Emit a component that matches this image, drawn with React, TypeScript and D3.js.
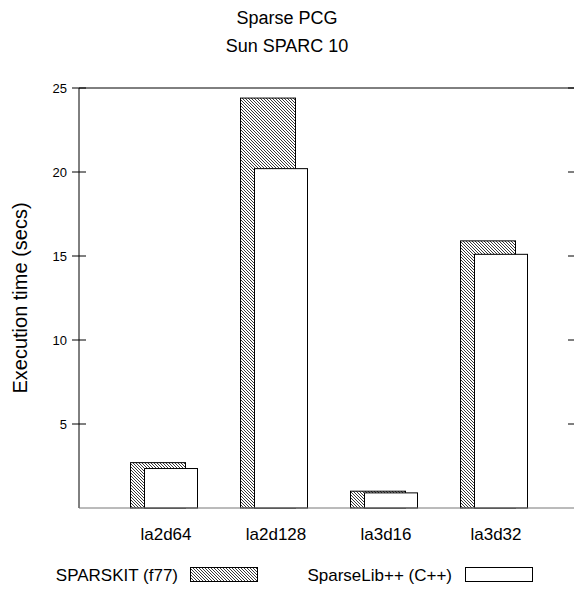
import React, { useEffect, useRef } from "react";
import * as d3 from "d3";

const categories = ["la2d64", "la2d128", "la3d16", "la3d32"];
const sparskit = [2.7, 24.4, 1.0, 15.9];
const sparselib = [2.35, 20.2, 0.9, 15.1];
const yTicks = [5, 10, 15, 20, 25];
const titleLines = ["Sparse PCG", "Sun SPARC 10"];

const W = 574;
const H = 606;

const App = () => {
  const ref = useRef<SVGSVGElement>(null);

  useEffect(() => {
    const svg = d3.select(ref.current);
    svg.selectAll("*").remove();
    const font = "Liberation Sans, Arial, sans-serif";

    const left = 79, right = 575, top = 88, bottom = 508;

    const x = d3.scaleBand().domain(categories).range([111, 551]);
    const y = d3.scaleLinear().domain([0, 25]).range([bottom, top]);

    // hatch pattern
    const defs = svg.append("defs");
    const pat = defs
      .append("pattern")
      .attr("id", "hatch")
      .attr("patternUnits", "userSpaceOnUse")
      .attr("width", 3)
      .attr("height", 3);
    pat.append("rect").attr("width", 3).attr("height", 3).attr("fill", "#fff");
    pat
      .append("path")
      .attr("d", "M-1,-1 L4,4 M-1,2 L1,4 M2,-1 L4,1")
      .attr("stroke", "#222")
      .attr("stroke-width", 0.9);

    // title
    svg
      .append("g")
      .selectAll("text")
      .data(titleLines)
      .join("text")
      .attr("x", 287)
      .attr("y", (d, i) => 24 + i * 28)
      .attr("text-anchor", "middle")
      .attr("font-family", font)
      .attr("font-size", 18)
      .text(d => d);

    // frame lines
    svg.append("line").attr("x1", left).attr("x2", right).attr("y1", top).attr("y2", top).attr("stroke", "#000");
    svg.append("line").attr("x1", left).attr("x2", left).attr("y1", top).attr("y2", bottom).attr("stroke", "#000");

    // y ticks, left and right
    const yg = svg.append("g");
    yTicks.forEach(t => {
      yg.append("line")
        .attr("x1", left - 7).attr("x2", left + 7)
        .attr("y1", y(t)).attr("y2", y(t))
        .attr("stroke", "#000");
      yg.append("line")
        .attr("x1", right - 7).attr("x2", right + 7)
        .attr("y1", y(t)).attr("y2", y(t))
        .attr("stroke", "#000");
      yg.append("text")
        .attr("x", left - 12)
        .attr("y", y(t))
        .attr("dy", "0.35em")
        .attr("text-anchor", "end")
        .attr("font-family", font)
        .attr("font-size", 13)
        .text(t);
    });

    svg
      .append("text")
      .attr("transform", `translate(27,${(top + bottom) / 2}) rotate(-90)`)
      .attr("text-anchor", "middle")
      .attr("font-family", font)
      .attr("font-size", 20)
      .text("Execution time (secs)");

    // bars
    const bars = svg.append("g");
    categories.forEach((c, i) => {
      const cx = x(c)! + x.bandwidth() / 2;
      bars.append("rect")
        .attr("x", cx - 35.5)
        .attr("y", y(sparskit[i]))
        .attr("width", 55)
        .attr("height", y(0) - y(sparskit[i]))
        .attr("fill", "url(#hatch)")
        .attr("stroke", "#000");
      bars.append("rect")
        .attr("x", cx - 21.5)
        .attr("y", y(sparselib[i]))
        .attr("width", 53)
        .attr("height", y(0) - y(sparselib[i]))
        .attr("fill", "#fff")
        .attr("stroke", "#000");
    });

    // x axis
    svg.append("line").attr("x1", left).attr("x2", right).attr("y1", bottom).attr("y2", bottom).attr("stroke", "#777");
    svg
      .append("g")
      .selectAll("text")
      .data(categories)
      .join("text")
      .attr("x", d => x(d)! + x.bandwidth() / 2)
      .attr("y", 540)
      .attr("text-anchor", "middle")
      .attr("font-family", font)
      .attr("font-size", 17)
      .text(d => d);

    // legend
    const lg = svg.append("g").attr("font-family", font).attr("font-size", 17);
    lg.append("text").attr("x", 178).attr("y", 581).attr("text-anchor", "end").text("SPARSKIT (f77)");
    lg.append("rect").attr("x", 190.5).attr("y", 567.5).attr("width", 67).attr("height", 14).attr("fill", "url(#hatch)").attr("stroke", "#000");
    lg.append("text").attr("x", 452).attr("y", 581).attr("text-anchor", "end").text("SparseLib++ (C++)");
    lg.append("rect").attr("x", 465.5).attr("y", 567.5).attr("width", 67).attr("height", 14).attr("fill", "#fff").attr("stroke", "#000");
  }, []);

  return (
    <svg
      ref={ref}
      width={W}
      height={H}
      style={{ position: "absolute", left: 0, top: 0, background: "#fff" }}
    />
  );
};

export default App;
